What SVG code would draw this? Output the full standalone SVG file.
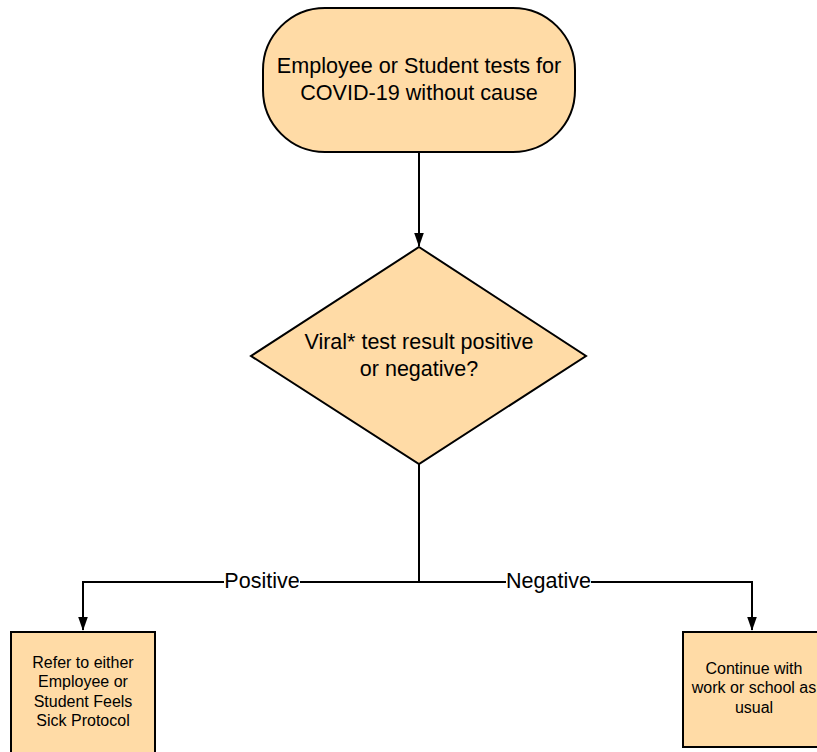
<svg xmlns="http://www.w3.org/2000/svg" width="817" height="752" viewBox="0 0 817 752">
<style>
.n{fill:#ffdba6;stroke:#000;stroke-width:2}
.t{font-family:"Liberation Sans",Arial,sans-serif;fill:#000;text-anchor:middle}
.c{fill:none;stroke:#000;stroke-width:2}
.lb{font-family:"Liberation Sans",Arial,sans-serif;font-size:21.5px;text-anchor:middle;fill:#000}
</style>
<defs>
<marker id="ah" markerWidth="14" markerHeight="20" refX="19" refY="7" orient="auto" markerUnits="userSpaceOnUse" viewBox="0 0 20 14">
<path d="M0,0 L20,7 L0,14 Z" fill="#000"/>
</marker>
</defs>
<rect width="817" height="752" fill="#fff"/>
<g id="connectors">
<path class="c" d="M419,153 V246" marker-end="url(#ah)"/>
<path class="c" d="M419,464 V582 H83 V630" marker-end="url(#ah)"/>
<path class="c" d="M419,582 H752 V630" marker-end="url(#ah)"/>
<rect x="224" y="569" width="76" height="24" fill="#fff"/>
<text class="lb" x="262" y="588">Positive</text>
<rect x="506" y="569" width="85" height="24" fill="#fff"/>
<text class="lb" x="548.5" y="588">Negative</text>
</g>
<g id="start">
<rect class="n" x="263" y="8" width="312" height="144" rx="62" ry="62"/>
<text class="t" font-size="21.6" x="419" y="72.5">Employee or Student tests for</text>
<text class="t" font-size="21.6" x="419" y="99.5">COVID-19 without cause</text>
</g>
<g id="decision">
<polygon class="n" points="419,247 586,356 419,464 251,356"/>
<text class="t" font-size="21.5" x="419" y="348.5">Viral* test result positive</text>
<text class="t" font-size="21.5" x="419" y="375.5">or negative?</text>
</g>
<g id="positive">
<rect class="n" x="11" y="632" width="144" height="122" stroke-width="2.5"/>
<text class="t" font-size="16" x="83" y="667.5">Refer to either</text>
<text class="t" font-size="16" x="83" y="687">Employee or</text>
<text class="t" font-size="16" x="83" y="706.5">Student Feels</text>
<text class="t" font-size="16" x="83" y="726">Sick Protocol</text>
</g>
<g id="negative">
<rect class="n" x="683" y="632" width="140" height="115" stroke-width="2.5"/>
<text class="t" font-size="16" x="754" y="673.5">Continue with</text>
<text class="t" font-size="16" x="754" y="693">work or school as</text>
<text class="t" font-size="16" x="754" y="712.5">usual</text>
</g>
</svg>
